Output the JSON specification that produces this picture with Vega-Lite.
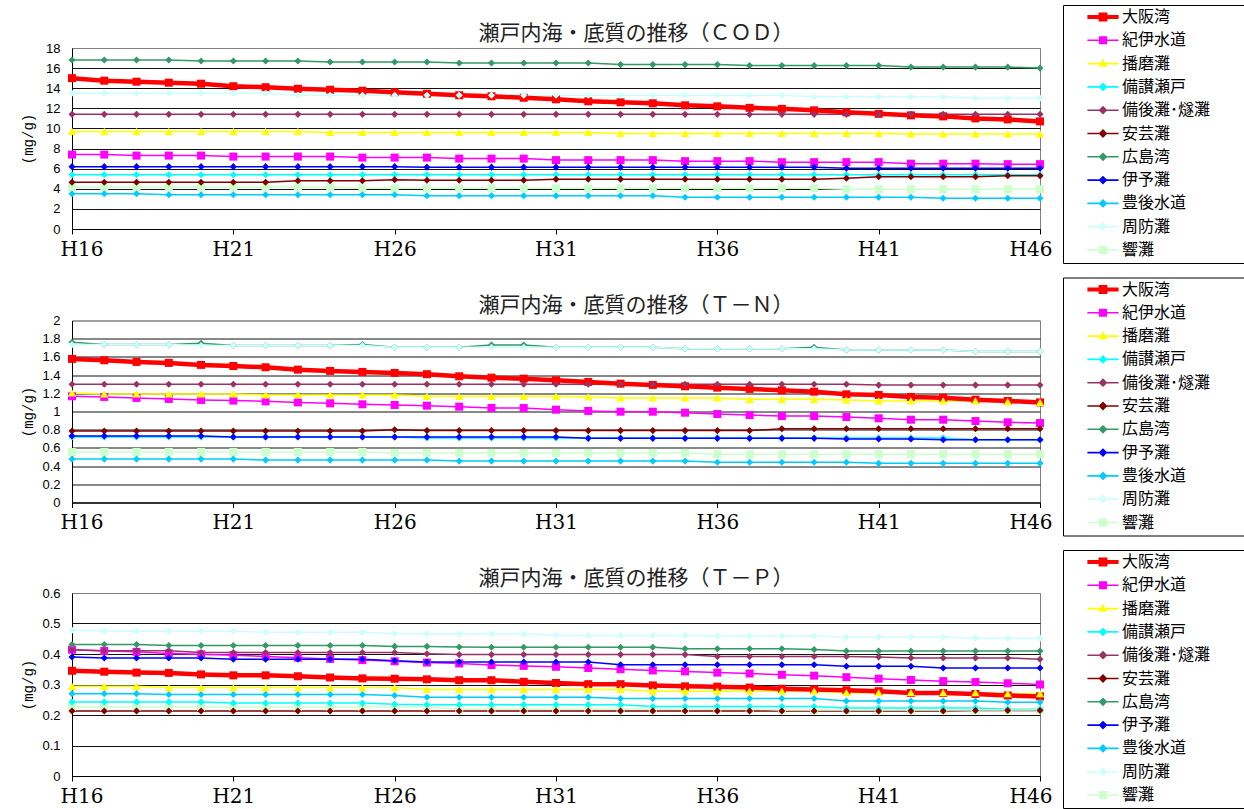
{
"$schema":"https://vega.github.io/schema/vega-lite/v6.json",
"background":"white",
"padding":{"left":20,"top":4,"right":0,"bottom":0},
"spacing":12.5,
"config":{
"view":{"stroke":"#808080","strokeWidth":1},
"font":"Noto Sans CJK JP",
"axis":{"labelOverlap":false},
"title":{"font":"Noto Sans CJK JP","fontSize":21,"fontWeight":"normal","color":"#222222","anchor":"middle","frame":"group","dx":80,"dy":45,"offset":6},
"legend":{"title":null,"orient":"none","legendX":991,"legendY":-43,"strokeColor":"black","fillColor":"white","padding":3,"clipHeight":18,"rowPadding":5.3,"symbolSize":64,"symbolStrokeWidth":0,"symbolOpacity":1,"symbolOffset":29,"labelOffset":11,"labelFont":"Noto Sans CJK JP","labelFontSize":16,"labelColor":"black","labelLimit":400}
},
"resolve":{"legend":{"color":"independent","shape":"independent"}},
"datasets":{
"cod":[
{"s":"大阪湾","x":16,"v":15},{"s":"大阪湾","x":17,"v":14.75},{"s":"大阪湾","x":18,"v":14.65},{"s":"大阪湾","x":19,"v":14.55},{"s":"大阪湾","x":20,"v":14.45},{"s":"大阪湾","x":21,"v":14.2},{"s":"大阪湾","x":22,"v":14.1},{"s":"大阪湾","x":23,"v":13.95},{"s":"大阪湾","x":24,"v":13.85},{"s":"大阪湾","x":25,"v":13.75},{"s":"大阪湾","x":26,"v":13.6},{"s":"大阪湾","x":27,"v":13.45},{"s":"大阪湾","x":28,"v":13.3},{"s":"大阪湾","x":29,"v":13.2},{"s":"大阪湾","x":30,"v":13.05},{"s":"大阪湾","x":31,"v":12.9},{"s":"大阪湾","x":32,"v":12.7},{"s":"大阪湾","x":33,"v":12.6},{"s":"大阪湾","x":34,"v":12.5},{"s":"大阪湾","x":35,"v":12.3},{"s":"大阪湾","x":36,"v":12.2},{"s":"大阪湾","x":37,"v":12.05},{"s":"大阪湾","x":38,"v":11.95},{"s":"大阪湾","x":39,"v":11.8},{"s":"大阪湾","x":40,"v":11.6},{"s":"大阪湾","x":41,"v":11.45},{"s":"大阪湾","x":42,"v":11.3},{"s":"大阪湾","x":43,"v":11.2},{"s":"大阪湾","x":44,"v":11},{"s":"大阪湾","x":45,"v":10.9},{"s":"大阪湾","x":46,"v":10.7},
{"s":"紀伊水道","x":16,"v":7.4},{"s":"紀伊水道","x":17,"v":7.4},{"s":"紀伊水道","x":18,"v":7.3},{"s":"紀伊水道","x":19,"v":7.3},{"s":"紀伊水道","x":20,"v":7.3},{"s":"紀伊水道","x":21,"v":7.2},{"s":"紀伊水道","x":22,"v":7.2},{"s":"紀伊水道","x":23,"v":7.2},{"s":"紀伊水道","x":24,"v":7.2},{"s":"紀伊水道","x":25,"v":7.1},{"s":"紀伊水道","x":26,"v":7.1},{"s":"紀伊水道","x":27,"v":7.1},{"s":"紀伊水道","x":28,"v":7},{"s":"紀伊水道","x":29,"v":7},{"s":"紀伊水道","x":30,"v":7},{"s":"紀伊水道","x":31,"v":6.85},{"s":"紀伊水道","x":32,"v":6.85},{"s":"紀伊水道","x":33,"v":6.85},{"s":"紀伊水道","x":34,"v":6.85},{"s":"紀伊水道","x":35,"v":6.75},{"s":"紀伊水道","x":36,"v":6.75},{"s":"紀伊水道","x":37,"v":6.75},{"s":"紀伊水道","x":38,"v":6.65},{"s":"紀伊水道","x":39,"v":6.65},{"s":"紀伊水道","x":40,"v":6.65},{"s":"紀伊水道","x":41,"v":6.65},{"s":"紀伊水道","x":42,"v":6.5},{"s":"紀伊水道","x":43,"v":6.5},{"s":"紀伊水道","x":44,"v":6.5},{"s":"紀伊水道","x":45,"v":6.45},{"s":"紀伊水道","x":46,"v":6.45},
{"s":"播磨灘","x":16,"v":9.7},{"s":"播磨灘","x":17,"v":9.7},{"s":"播磨灘","x":18,"v":9.7},{"s":"播磨灘","x":19,"v":9.7},{"s":"播磨灘","x":20,"v":9.7},{"s":"播磨灘","x":21,"v":9.7},{"s":"播磨灘","x":22,"v":9.7},{"s":"播磨灘","x":23,"v":9.7},{"s":"播磨灘","x":24,"v":9.6},{"s":"播磨灘","x":25,"v":9.6},{"s":"播磨灘","x":26,"v":9.6},{"s":"播磨灘","x":27,"v":9.6},{"s":"播磨灘","x":28,"v":9.6},{"s":"播磨灘","x":29,"v":9.6},{"s":"播磨灘","x":30,"v":9.6},{"s":"播磨灘","x":31,"v":9.6},{"s":"播磨灘","x":32,"v":9.6},{"s":"播磨灘","x":33,"v":9.5},{"s":"播磨灘","x":34,"v":9.5},{"s":"播磨灘","x":35,"v":9.5},{"s":"播磨灘","x":36,"v":9.5},{"s":"播磨灘","x":37,"v":9.5},{"s":"播磨灘","x":38,"v":9.5},{"s":"播磨灘","x":39,"v":9.5},{"s":"播磨灘","x":40,"v":9.5},{"s":"播磨灘","x":41,"v":9.5},{"s":"播磨灘","x":42,"v":9.45},{"s":"播磨灘","x":43,"v":9.45},{"s":"播磨灘","x":44,"v":9.45},{"s":"播磨灘","x":45,"v":9.45},{"s":"播磨灘","x":46,"v":9.45},
{"s":"備讃瀬戸","x":16,"v":5.4},{"s":"備讃瀬戸","x":17,"v":5.4},{"s":"備讃瀬戸","x":18,"v":5.4},{"s":"備讃瀬戸","x":19,"v":5.4},{"s":"備讃瀬戸","x":20,"v":5.4},{"s":"備讃瀬戸","x":21,"v":5.4},{"s":"備讃瀬戸","x":22,"v":5.4},{"s":"備讃瀬戸","x":23,"v":5.4},{"s":"備讃瀬戸","x":24,"v":5.4},{"s":"備讃瀬戸","x":25,"v":5.4},{"s":"備讃瀬戸","x":26,"v":5.4},{"s":"備讃瀬戸","x":27,"v":5.4},{"s":"備讃瀬戸","x":28,"v":5.4},{"s":"備讃瀬戸","x":29,"v":5.4},{"s":"備讃瀬戸","x":30,"v":5.4},{"s":"備讃瀬戸","x":31,"v":5.4},{"s":"備讃瀬戸","x":32,"v":5.4},{"s":"備讃瀬戸","x":33,"v":5.4},{"s":"備讃瀬戸","x":34,"v":5.4},{"s":"備讃瀬戸","x":35,"v":5.4},{"s":"備讃瀬戸","x":36,"v":5.4},{"s":"備讃瀬戸","x":37,"v":5.4},{"s":"備讃瀬戸","x":38,"v":5.4},{"s":"備讃瀬戸","x":39,"v":5.4},{"s":"備讃瀬戸","x":40,"v":5.4},{"s":"備讃瀬戸","x":41,"v":5.4},{"s":"備讃瀬戸","x":42,"v":5.4},{"s":"備讃瀬戸","x":43,"v":5.4},{"s":"備讃瀬戸","x":44,"v":5.4},{"s":"備讃瀬戸","x":45,"v":5.4},{"s":"備讃瀬戸","x":46,"v":5.4},
{"s":"備後灘･燧灘","x":16,"v":11.4},{"s":"備後灘･燧灘","x":17,"v":11.4},{"s":"備後灘･燧灘","x":18,"v":11.4},{"s":"備後灘･燧灘","x":19,"v":11.4},{"s":"備後灘･燧灘","x":20,"v":11.4},{"s":"備後灘･燧灘","x":21,"v":11.4},{"s":"備後灘･燧灘","x":22,"v":11.4},{"s":"備後灘･燧灘","x":23,"v":11.4},{"s":"備後灘･燧灘","x":24,"v":11.4},{"s":"備後灘･燧灘","x":25,"v":11.4},{"s":"備後灘･燧灘","x":26,"v":11.4},{"s":"備後灘･燧灘","x":27,"v":11.4},{"s":"備後灘･燧灘","x":28,"v":11.4},{"s":"備後灘･燧灘","x":29,"v":11.4},{"s":"備後灘･燧灘","x":30,"v":11.4},{"s":"備後灘･燧灘","x":31,"v":11.4},{"s":"備後灘･燧灘","x":32,"v":11.4},{"s":"備後灘･燧灘","x":33,"v":11.4},{"s":"備後灘･燧灘","x":34,"v":11.4},{"s":"備後灘･燧灘","x":35,"v":11.4},{"s":"備後灘･燧灘","x":36,"v":11.4},{"s":"備後灘･燧灘","x":37,"v":11.4},{"s":"備後灘･燧灘","x":38,"v":11.4},{"s":"備後灘･燧灘","x":39,"v":11.4},{"s":"備後灘･燧灘","x":40,"v":11.4},{"s":"備後灘･燧灘","x":41,"v":11.4},{"s":"備後灘･燧灘","x":42,"v":11.4},{"s":"備後灘･燧灘","x":43,"v":11.4},{"s":"備後灘･燧灘","x":44,"v":11.4},{"s":"備後灘･燧灘","x":45,"v":11.4},{"s":"備後灘･燧灘","x":46,"v":11.4},
{"s":"安芸灘","x":16,"v":4.65},{"s":"安芸灘","x":17,"v":4.65},{"s":"安芸灘","x":18,"v":4.65},{"s":"安芸灘","x":19,"v":4.65},{"s":"安芸灘","x":20,"v":4.65},{"s":"安芸灘","x":21,"v":4.65},{"s":"安芸灘","x":22,"v":4.65},{"s":"安芸灘","x":23,"v":4.8},{"s":"安芸灘","x":24,"v":4.8},{"s":"安芸灘","x":25,"v":4.8},{"s":"安芸灘","x":26,"v":4.9},{"s":"安芸灘","x":27,"v":4.85},{"s":"安芸灘","x":28,"v":4.85},{"s":"安芸灘","x":29,"v":4.85},{"s":"安芸灘","x":30,"v":4.85},{"s":"安芸灘","x":31,"v":4.95},{"s":"安芸灘","x":32,"v":4.95},{"s":"安芸灘","x":33,"v":4.95},{"s":"安芸灘","x":34,"v":4.95},{"s":"安芸灘","x":35,"v":4.95},{"s":"安芸灘","x":36,"v":4.95},{"s":"安芸灘","x":37,"v":4.95},{"s":"安芸灘","x":38,"v":4.95},{"s":"安芸灘","x":39,"v":4.95},{"s":"安芸灘","x":40,"v":5.05},{"s":"安芸灘","x":41,"v":5.2},{"s":"安芸灘","x":42,"v":5.2},{"s":"安芸灘","x":43,"v":5.2},{"s":"安芸灘","x":44,"v":5.2},{"s":"安芸灘","x":45,"v":5.3},{"s":"安芸灘","x":46,"v":5.3},
{"s":"広島湾","x":16,"v":16.8},{"s":"広島湾","x":17,"v":16.8},{"s":"広島湾","x":18,"v":16.8},{"s":"広島湾","x":19,"v":16.8},{"s":"広島湾","x":20,"v":16.7},{"s":"広島湾","x":21,"v":16.7},{"s":"広島湾","x":22,"v":16.7},{"s":"広島湾","x":23,"v":16.7},{"s":"広島湾","x":24,"v":16.6},{"s":"広島湾","x":25,"v":16.6},{"s":"広島湾","x":26,"v":16.6},{"s":"広島湾","x":27,"v":16.6},{"s":"広島湾","x":28,"v":16.5},{"s":"広島湾","x":29,"v":16.5},{"s":"広島湾","x":30,"v":16.5},{"s":"広島湾","x":31,"v":16.5},{"s":"広島湾","x":32,"v":16.5},{"s":"広島湾","x":33,"v":16.35},{"s":"広島湾","x":34,"v":16.35},{"s":"広島湾","x":35,"v":16.35},{"s":"広島湾","x":36,"v":16.35},{"s":"広島湾","x":37,"v":16.25},{"s":"広島湾","x":38,"v":16.25},{"s":"広島湾","x":39,"v":16.25},{"s":"広島湾","x":40,"v":16.25},{"s":"広島湾","x":41,"v":16.25},{"s":"広島湾","x":42,"v":16.1},{"s":"広島湾","x":43,"v":16.1},{"s":"広島湾","x":44,"v":16.1},{"s":"広島湾","x":45,"v":16.1},{"s":"広島湾","x":46,"v":16},
{"s":"伊予灘","x":16,"v":6.2},{"s":"伊予灘","x":17,"v":6.2},{"s":"伊予灘","x":18,"v":6.2},{"s":"伊予灘","x":19,"v":6.2},{"s":"伊予灘","x":20,"v":6.2},{"s":"伊予灘","x":21,"v":6.2},{"s":"伊予灘","x":22,"v":6.2},{"s":"伊予灘","x":23,"v":6.2},{"s":"伊予灘","x":24,"v":6.2},{"s":"伊予灘","x":25,"v":6.2},{"s":"伊予灘","x":26,"v":6.2},{"s":"伊予灘","x":27,"v":6.15},{"s":"伊予灘","x":28,"v":6.15},{"s":"伊予灘","x":29,"v":6.15},{"s":"伊予灘","x":30,"v":6.15},{"s":"伊予灘","x":31,"v":6.15},{"s":"伊予灘","x":32,"v":6.15},{"s":"伊予灘","x":33,"v":6.15},{"s":"伊予灘","x":34,"v":6.15},{"s":"伊予灘","x":35,"v":6.15},{"s":"伊予灘","x":36,"v":6.15},{"s":"伊予灘","x":37,"v":6.15},{"s":"伊予灘","x":38,"v":6.15},{"s":"伊予灘","x":39,"v":6.15},{"s":"伊予灘","x":40,"v":6.05},{"s":"伊予灘","x":41,"v":6.05},{"s":"伊予灘","x":42,"v":6.05},{"s":"伊予灘","x":43,"v":6.05},{"s":"伊予灘","x":44,"v":6.05},{"s":"伊予灘","x":45,"v":6.05},{"s":"伊予灘","x":46,"v":6.05},
{"s":"豊後水道","x":16,"v":3.5},{"s":"豊後水道","x":17,"v":3.5},{"s":"豊後水道","x":18,"v":3.5},{"s":"豊後水道","x":19,"v":3.4},{"s":"豊後水道","x":20,"v":3.4},{"s":"豊後水道","x":21,"v":3.4},{"s":"豊後水道","x":22,"v":3.4},{"s":"豊後水道","x":23,"v":3.4},{"s":"豊後水道","x":24,"v":3.4},{"s":"豊後水道","x":25,"v":3.4},{"s":"豊後水道","x":26,"v":3.4},{"s":"豊後水道","x":27,"v":3.3},{"s":"豊後水道","x":28,"v":3.3},{"s":"豊後水道","x":29,"v":3.3},{"s":"豊後水道","x":30,"v":3.3},{"s":"豊後水道","x":31,"v":3.3},{"s":"豊後水道","x":32,"v":3.3},{"s":"豊後水道","x":33,"v":3.3},{"s":"豊後水道","x":34,"v":3.3},{"s":"豊後水道","x":35,"v":3.15},{"s":"豊後水道","x":36,"v":3.15},{"s":"豊後水道","x":37,"v":3.15},{"s":"豊後水道","x":38,"v":3.15},{"s":"豊後水道","x":39,"v":3.15},{"s":"豊後水道","x":40,"v":3.15},{"s":"豊後水道","x":41,"v":3.15},{"s":"豊後水道","x":42,"v":3.15},{"s":"豊後水道","x":43,"v":3.05},{"s":"豊後水道","x":44,"v":3.05},{"s":"豊後水道","x":45,"v":3.05},{"s":"豊後水道","x":46,"v":3.05},
{"s":"周防灘","x":16,"v":13.5},{"s":"周防灘","x":17,"v":13.5},{"s":"周防灘","x":18,"v":13.5},{"s":"周防灘","x":19,"v":13.5},{"s":"周防灘","x":20,"v":13.5},{"s":"周防灘","x":21,"v":13.5},{"s":"周防灘","x":22,"v":13.5},{"s":"周防灘","x":23,"v":13.3},{"s":"周防灘","x":24,"v":13.3},{"s":"周防灘","x":25,"v":13.3},{"s":"周防灘","x":26,"v":13.3},{"s":"周防灘","x":27,"v":13.3},{"s":"周防灘","x":28,"v":13.3},{"s":"周防灘","x":29,"v":13.3},{"s":"周防灘","x":30,"v":13.3},{"s":"周防灘","x":31,"v":13.3},{"s":"周防灘","x":32,"v":13.3},{"s":"周防灘","x":33,"v":13.3},{"s":"周防灘","x":34,"v":13.3},{"s":"周防灘","x":35,"v":13.3},{"s":"周防灘","x":36,"v":13.3},{"s":"周防灘","x":37,"v":13.3},{"s":"周防灘","x":38,"v":13.3},{"s":"周防灘","x":39,"v":13.15},{"s":"周防灘","x":40,"v":13.15},{"s":"周防灘","x":41,"v":13.15},{"s":"周防灘","x":42,"v":13.15},{"s":"周防灘","x":43,"v":13.15},{"s":"周防灘","x":44,"v":13},{"s":"周防灘","x":45,"v":13},{"s":"周防灘","x":46,"v":13},
{"s":"響灘","x":16,"v":4.15},{"s":"響灘","x":17,"v":4.15},{"s":"響灘","x":18,"v":4.15},{"s":"響灘","x":19,"v":4.15},{"s":"響灘","x":20,"v":4.15},{"s":"響灘","x":21,"v":4.15},{"s":"響灘","x":22,"v":4.15},{"s":"響灘","x":23,"v":4.15},{"s":"響灘","x":24,"v":4.15},{"s":"響灘","x":25,"v":4.05},{"s":"響灘","x":26,"v":4.05},{"s":"響灘","x":27,"v":4.05},{"s":"響灘","x":28,"v":4.05},{"s":"響灘","x":29,"v":4.05},{"s":"響灘","x":30,"v":4.05},{"s":"響灘","x":31,"v":4.05},{"s":"響灘","x":32,"v":4.05},{"s":"響灘","x":33,"v":4.05},{"s":"響灘","x":34,"v":4.05},{"s":"響灘","x":35,"v":4.05},{"s":"響灘","x":36,"v":4.05},{"s":"響灘","x":37,"v":4.05},{"s":"響灘","x":38,"v":4.05},{"s":"響灘","x":39,"v":4.05},{"s":"響灘","x":40,"v":3.95},{"s":"響灘","x":41,"v":3.95},{"s":"響灘","x":42,"v":3.95},{"s":"響灘","x":43,"v":3.95},{"s":"響灘","x":44,"v":3.95},{"s":"響灘","x":45,"v":3.95},{"s":"響灘","x":46,"v":3.95}
],
"tn":[
{"s":"大阪湾","x":16,"v":1.578},{"s":"大阪湾","x":17,"v":1.563},{"s":"大阪湾","x":18,"v":1.545},{"s":"大阪湾","x":19,"v":1.534},{"s":"大阪湾","x":20,"v":1.512},{"s":"大阪湾","x":21,"v":1.5},{"s":"大阪湾","x":22,"v":1.486},{"s":"大阪湾","x":23,"v":1.46},{"s":"大阪湾","x":24,"v":1.446},{"s":"大阪湾","x":25,"v":1.435},{"s":"大阪湾","x":26,"v":1.424},{"s":"大阪湾","x":27,"v":1.41},{"s":"大阪湾","x":28,"v":1.387},{"s":"大阪湾","x":29,"v":1.372},{"s":"大阪湾","x":30,"v":1.361},{"s":"大阪湾","x":31,"v":1.343},{"s":"大阪湾","x":32,"v":1.325},{"s":"大阪湾","x":33,"v":1.306},{"s":"大阪湾","x":34,"v":1.292},{"s":"大阪湾","x":35,"v":1.277},{"s":"大阪湾","x":36,"v":1.262},{"s":"大阪湾","x":37,"v":1.248},{"s":"大阪湾","x":38,"v":1.233},{"s":"大阪湾","x":39,"v":1.218},{"s":"大阪湾","x":40,"v":1.189},{"s":"大阪湾","x":41,"v":1.182},{"s":"大阪湾","x":42,"v":1.16},{"s":"大阪湾","x":43,"v":1.152},{"s":"大阪湾","x":44,"v":1.13},{"s":"大阪湾","x":45,"v":1.116},{"s":"大阪湾","x":46,"v":1.1},
{"s":"紀伊水道","x":16,"v":1.167},{"s":"紀伊水道","x":17,"v":1.16},{"s":"紀伊水道","x":18,"v":1.149},{"s":"紀伊水道","x":19,"v":1.138},{"s":"紀伊水道","x":20,"v":1.127},{"s":"紀伊水道","x":21,"v":1.12},{"s":"紀伊水道","x":22,"v":1.112},{"s":"紀伊水道","x":23,"v":1.1},{"s":"紀伊水道","x":24,"v":1.09},{"s":"紀伊水道","x":25,"v":1.079},{"s":"紀伊水道","x":26,"v":1.072},{"s":"紀伊水道","x":27,"v":1.064},{"s":"紀伊水道","x":28,"v":1.053},{"s":"紀伊水道","x":29,"v":1.039},{"s":"紀伊水道","x":30,"v":1.039},{"s":"紀伊水道","x":31,"v":1.02},{"s":"紀伊水道","x":32,"v":1.006},{"s":"紀伊水道","x":33,"v":0.998},{"s":"紀伊水道","x":34,"v":0.998},{"s":"紀伊水道","x":35,"v":0.987},{"s":"紀伊水道","x":36,"v":0.972},{"s":"紀伊水道","x":37,"v":0.961},{"s":"紀伊水道","x":38,"v":0.95},{"s":"紀伊水道","x":39,"v":0.95},{"s":"紀伊水道","x":40,"v":0.939},{"s":"紀伊水道","x":41,"v":0.925},{"s":"紀伊水道","x":42,"v":0.91},{"s":"紀伊水道","x":43,"v":0.91},{"s":"紀伊水道","x":44,"v":0.895},{"s":"紀伊水道","x":45,"v":0.881},{"s":"紀伊水道","x":46,"v":0.873},
{"s":"播磨灘","x":16,"v":1.204},{"s":"播磨灘","x":17,"v":1.193},{"s":"播磨灘","x":18,"v":1.193},{"s":"播磨灘","x":19,"v":1.193},{"s":"播磨灘","x":20,"v":1.193},{"s":"播磨灘","x":21,"v":1.193},{"s":"播磨灘","x":22,"v":1.182},{"s":"播磨灘","x":23,"v":1.182},{"s":"播磨灘","x":24,"v":1.182},{"s":"播磨灘","x":25,"v":1.182},{"s":"播磨灘","x":26,"v":1.182},{"s":"播磨灘","x":27,"v":1.167},{"s":"播磨灘","x":28,"v":1.167},{"s":"播磨灘","x":29,"v":1.167},{"s":"播磨灘","x":30,"v":1.167},{"s":"播磨灘","x":31,"v":1.167},{"s":"播磨灘","x":32,"v":1.16},{"s":"播磨灘","x":33,"v":1.149},{"s":"播磨灘","x":34,"v":1.149},{"s":"播磨灘","x":35,"v":1.149},{"s":"播磨灘","x":36,"v":1.149},{"s":"播磨灘","x":37,"v":1.134},{"s":"播磨灘","x":38,"v":1.134},{"s":"播磨灘","x":39,"v":1.134},{"s":"播磨灘","x":40,"v":1.127},{"s":"播磨灘","x":41,"v":1.116},{"s":"播磨灘","x":42,"v":1.116},{"s":"播磨灘","x":43,"v":1.116},{"s":"播磨灘","x":44,"v":1.116},{"s":"播磨灘","x":45,"v":1.108},{"s":"播磨灘","x":46,"v":1.1},
{"s":"備讃瀬戸","x":16,"v":0.72},{"s":"備讃瀬戸","x":17,"v":0.72},{"s":"備讃瀬戸","x":18,"v":0.72},{"s":"備讃瀬戸","x":19,"v":0.72},{"s":"備讃瀬戸","x":20,"v":0.72},{"s":"備讃瀬戸","x":21,"v":0.72},{"s":"備讃瀬戸","x":22,"v":0.72},{"s":"備讃瀬戸","x":23,"v":0.72},{"s":"備讃瀬戸","x":24,"v":0.72},{"s":"備讃瀬戸","x":25,"v":0.72},{"s":"備讃瀬戸","x":26,"v":0.72},{"s":"備讃瀬戸","x":27,"v":0.71},{"s":"備讃瀬戸","x":28,"v":0.71},{"s":"備讃瀬戸","x":29,"v":0.71},{"s":"備讃瀬戸","x":30,"v":0.71},{"s":"備讃瀬戸","x":31,"v":0.71},{"s":"備讃瀬戸","x":32,"v":0.71},{"s":"備讃瀬戸","x":33,"v":0.71},{"s":"備讃瀬戸","x":34,"v":0.71},{"s":"備讃瀬戸","x":35,"v":0.71},{"s":"備讃瀬戸","x":36,"v":0.71},{"s":"備讃瀬戸","x":37,"v":0.71},{"s":"備讃瀬戸","x":38,"v":0.71},{"s":"備讃瀬戸","x":39,"v":0.71},{"s":"備讃瀬戸","x":40,"v":0.71},{"s":"備讃瀬戸","x":41,"v":0.71},{"s":"備讃瀬戸","x":42,"v":0.71},{"s":"備讃瀬戸","x":43,"v":0.71},{"s":"備讃瀬戸","x":44,"v":0.69},{"s":"備讃瀬戸","x":45,"v":0.69},{"s":"備讃瀬戸","x":46,"v":0.69},
{"s":"備後灘･燧灘","x":16,"v":1.3},{"s":"備後灘･燧灘","x":17,"v":1.3},{"s":"備後灘･燧灘","x":18,"v":1.3},{"s":"備後灘･燧灘","x":19,"v":1.3},{"s":"備後灘･燧灘","x":20,"v":1.3},{"s":"備後灘･燧灘","x":21,"v":1.3},{"s":"備後灘･燧灘","x":22,"v":1.3},{"s":"備後灘･燧灘","x":23,"v":1.3},{"s":"備後灘･燧灘","x":24,"v":1.3},{"s":"備後灘･燧灘","x":25,"v":1.3},{"s":"備後灘･燧灘","x":26,"v":1.3},{"s":"備後灘･燧灘","x":27,"v":1.3},{"s":"備後灘･燧灘","x":28,"v":1.3},{"s":"備後灘･燧灘","x":29,"v":1.3},{"s":"備後灘･燧灘","x":30,"v":1.3},{"s":"備後灘･燧灘","x":31,"v":1.3},{"s":"備後灘･燧灘","x":32,"v":1.3},{"s":"備後灘･燧灘","x":33,"v":1.3},{"s":"備後灘･燧灘","x":34,"v":1.3},{"s":"備後灘･燧灘","x":35,"v":1.3},{"s":"備後灘･燧灘","x":36,"v":1.3},{"s":"備後灘･燧灘","x":37,"v":1.3},{"s":"備後灘･燧灘","x":38,"v":1.3},{"s":"備後灘･燧灘","x":39,"v":1.3},{"s":"備後灘･燧灘","x":40,"v":1.3},{"s":"備後灘･燧灘","x":41,"v":1.29},{"s":"備後灘･燧灘","x":42,"v":1.29},{"s":"備後灘･燧灘","x":43,"v":1.29},{"s":"備後灘･燧灘","x":44,"v":1.29},{"s":"備後灘･燧灘","x":45,"v":1.29},{"s":"備後灘･燧灘","x":46,"v":1.29},
{"s":"安芸灘","x":16,"v":0.785},{"s":"安芸灘","x":17,"v":0.785},{"s":"安芸灘","x":18,"v":0.785},{"s":"安芸灘","x":19,"v":0.785},{"s":"安芸灘","x":20,"v":0.785},{"s":"安芸灘","x":21,"v":0.785},{"s":"安芸灘","x":22,"v":0.785},{"s":"安芸灘","x":23,"v":0.785},{"s":"安芸灘","x":24,"v":0.785},{"s":"安芸灘","x":25,"v":0.785},{"s":"安芸灘","x":26,"v":0.8},{"s":"安芸灘","x":27,"v":0.79},{"s":"安芸灘","x":28,"v":0.79},{"s":"安芸灘","x":29,"v":0.79},{"s":"安芸灘","x":30,"v":0.79},{"s":"安芸灘","x":31,"v":0.79},{"s":"安芸灘","x":32,"v":0.79},{"s":"安芸灘","x":33,"v":0.79},{"s":"安芸灘","x":34,"v":0.79},{"s":"安芸灘","x":35,"v":0.79},{"s":"安芸灘","x":36,"v":0.79},{"s":"安芸灘","x":37,"v":0.79},{"s":"安芸灘","x":38,"v":0.81},{"s":"安芸灘","x":39,"v":0.81},{"s":"安芸灘","x":40,"v":0.81},{"s":"安芸灘","x":41,"v":0.81},{"s":"安芸灘","x":42,"v":0.81},{"s":"安芸灘","x":43,"v":0.81},{"s":"安芸灘","x":44,"v":0.81},{"s":"安芸灘","x":45,"v":0.81},{"s":"安芸灘","x":46,"v":0.81},
{"s":"広島湾","x":16,"v":1.76},{"s":"広島湾","x":17,"v":1.735},{"s":"広島湾","x":18,"v":1.735},{"s":"広島湾","x":19,"v":1.735},{"s":"広島湾","x":20,"v":1.75},{"s":"広島湾","x":21,"v":1.725},{"s":"広島湾","x":22,"v":1.725},{"s":"広島湾","x":23,"v":1.725},{"s":"広島湾","x":24,"v":1.725},{"s":"広島湾","x":25,"v":1.735},{"s":"広島湾","x":26,"v":1.705},{"s":"広島湾","x":27,"v":1.705},{"s":"広島湾","x":28,"v":1.705},{"s":"広島湾","x":29,"v":1.73},{"s":"広島湾","x":30,"v":1.73},{"s":"広島湾","x":31,"v":1.705},{"s":"広島湾","x":32,"v":1.705},{"s":"広島湾","x":33,"v":1.705},{"s":"広島湾","x":34,"v":1.705},{"s":"広島湾","x":35,"v":1.69},{"s":"広島湾","x":36,"v":1.69},{"s":"広島湾","x":37,"v":1.69},{"s":"広島湾","x":38,"v":1.69},{"s":"広島湾","x":39,"v":1.705},{"s":"広島湾","x":40,"v":1.675},{"s":"広島湾","x":41,"v":1.675},{"s":"広島湾","x":42,"v":1.675},{"s":"広島湾","x":43,"v":1.675},{"s":"広島湾","x":44,"v":1.66},{"s":"広島湾","x":45,"v":1.66},{"s":"広島湾","x":46,"v":1.66},
{"s":"伊予灘","x":16,"v":0.73},{"s":"伊予灘","x":17,"v":0.73},{"s":"伊予灘","x":18,"v":0.73},{"s":"伊予灘","x":19,"v":0.73},{"s":"伊予灘","x":20,"v":0.73},{"s":"伊予灘","x":21,"v":0.72},{"s":"伊予灘","x":22,"v":0.72},{"s":"伊予灘","x":23,"v":0.72},{"s":"伊予灘","x":24,"v":0.72},{"s":"伊予灘","x":25,"v":0.72},{"s":"伊予灘","x":26,"v":0.72},{"s":"伊予灘","x":27,"v":0.72},{"s":"伊予灘","x":28,"v":0.72},{"s":"伊予灘","x":29,"v":0.72},{"s":"伊予灘","x":30,"v":0.72},{"s":"伊予灘","x":31,"v":0.72},{"s":"伊予灘","x":32,"v":0.705},{"s":"伊予灘","x":33,"v":0.705},{"s":"伊予灘","x":34,"v":0.705},{"s":"伊予灘","x":35,"v":0.705},{"s":"伊予灘","x":36,"v":0.705},{"s":"伊予灘","x":37,"v":0.705},{"s":"伊予灘","x":38,"v":0.705},{"s":"伊予灘","x":39,"v":0.705},{"s":"伊予灘","x":40,"v":0.697},{"s":"伊予灘","x":41,"v":0.697},{"s":"伊予灘","x":42,"v":0.697},{"s":"伊予灘","x":43,"v":0.69},{"s":"伊予灘","x":44,"v":0.69},{"s":"伊予灘","x":45,"v":0.69},{"s":"伊予灘","x":46,"v":0.69},
{"s":"豊後水道","x":16,"v":0.477},{"s":"豊後水道","x":17,"v":0.477},{"s":"豊後水道","x":18,"v":0.477},{"s":"豊後水道","x":19,"v":0.477},{"s":"豊後水道","x":20,"v":0.477},{"s":"豊後水道","x":21,"v":0.477},{"s":"豊後水道","x":22,"v":0.466},{"s":"豊後水道","x":23,"v":0.466},{"s":"豊後水道","x":24,"v":0.466},{"s":"豊後水道","x":25,"v":0.466},{"s":"豊後水道","x":26,"v":0.466},{"s":"豊後水道","x":27,"v":0.466},{"s":"豊後水道","x":28,"v":0.455},{"s":"豊後水道","x":29,"v":0.455},{"s":"豊後水道","x":30,"v":0.455},{"s":"豊後水道","x":31,"v":0.455},{"s":"豊後水道","x":32,"v":0.455},{"s":"豊後水道","x":33,"v":0.455},{"s":"豊後水道","x":34,"v":0.455},{"s":"豊後水道","x":35,"v":0.455},{"s":"豊後水道","x":36,"v":0.442},{"s":"豊後水道","x":37,"v":0.442},{"s":"豊後水道","x":38,"v":0.442},{"s":"豊後水道","x":39,"v":0.442},{"s":"豊後水道","x":40,"v":0.442},{"s":"豊後水道","x":41,"v":0.43},{"s":"豊後水道","x":42,"v":0.43},{"s":"豊後水道","x":43,"v":0.43},{"s":"豊後水道","x":44,"v":0.43},{"s":"豊後水道","x":45,"v":0.43},{"s":"豊後水道","x":46,"v":0.43},
{"s":"周防灘","x":16,"v":1.735},{"s":"周防灘","x":17,"v":1.735},{"s":"周防灘","x":18,"v":1.735},{"s":"周防灘","x":19,"v":1.735},{"s":"周防灘","x":20,"v":1.725},{"s":"周防灘","x":21,"v":1.725},{"s":"周防灘","x":22,"v":1.725},{"s":"周防灘","x":23,"v":1.725},{"s":"周防灘","x":24,"v":1.725},{"s":"周防灘","x":25,"v":1.725},{"s":"周防灘","x":26,"v":1.705},{"s":"周防灘","x":27,"v":1.705},{"s":"周防灘","x":28,"v":1.705},{"s":"周防灘","x":29,"v":1.705},{"s":"周防灘","x":30,"v":1.705},{"s":"周防灘","x":31,"v":1.705},{"s":"周防灘","x":32,"v":1.705},{"s":"周防灘","x":33,"v":1.705},{"s":"周防灘","x":34,"v":1.705},{"s":"周防灘","x":35,"v":1.69},{"s":"周防灘","x":36,"v":1.69},{"s":"周防灘","x":37,"v":1.69},{"s":"周防灘","x":38,"v":1.69},{"s":"周防灘","x":39,"v":1.69},{"s":"周防灘","x":40,"v":1.675},{"s":"周防灘","x":41,"v":1.675},{"s":"周防灘","x":42,"v":1.675},{"s":"周防灘","x":43,"v":1.675},{"s":"周防灘","x":44,"v":1.66},{"s":"周防灘","x":45,"v":1.66},{"s":"周防灘","x":46,"v":1.66},
{"s":"響灘","x":16,"v":0.555},{"s":"響灘","x":17,"v":0.555},{"s":"響灘","x":18,"v":0.555},{"s":"響灘","x":19,"v":0.555},{"s":"響灘","x":20,"v":0.555},{"s":"響灘","x":21,"v":0.555},{"s":"響灘","x":22,"v":0.555},{"s":"響灘","x":23,"v":0.555},{"s":"響灘","x":24,"v":0.555},{"s":"響灘","x":25,"v":0.555},{"s":"響灘","x":26,"v":0.545},{"s":"響灘","x":27,"v":0.545},{"s":"響灘","x":28,"v":0.545},{"s":"響灘","x":29,"v":0.545},{"s":"響灘","x":30,"v":0.545},{"s":"響灘","x":31,"v":0.545},{"s":"響灘","x":32,"v":0.545},{"s":"響灘","x":33,"v":0.545},{"s":"響灘","x":34,"v":0.545},{"s":"響灘","x":35,"v":0.545},{"s":"響灘","x":36,"v":0.53},{"s":"響灘","x":37,"v":0.53},{"s":"響灘","x":38,"v":0.53},{"s":"響灘","x":39,"v":0.53},{"s":"響灘","x":40,"v":0.53},{"s":"響灘","x":41,"v":0.53},{"s":"響灘","x":42,"v":0.53},{"s":"響灘","x":43,"v":0.53},{"s":"響灘","x":44,"v":0.53},{"s":"響灘","x":45,"v":0.53},{"s":"響灘","x":46,"v":0.53}
],
"tp":[
{"s":"大阪湾","x":16,"v":0.345},{"s":"大阪湾","x":17,"v":0.342},{"s":"大阪湾","x":18,"v":0.339},{"s":"大阪湾","x":19,"v":0.338},{"s":"大阪湾","x":20,"v":0.333},{"s":"大阪湾","x":21,"v":0.33},{"s":"大阪湾","x":22,"v":0.33},{"s":"大阪湾","x":23,"v":0.327},{"s":"大阪湾","x":24,"v":0.323},{"s":"大阪湾","x":25,"v":0.32},{"s":"大阪湾","x":26,"v":0.319},{"s":"大阪湾","x":27,"v":0.317},{"s":"大阪湾","x":28,"v":0.314},{"s":"大阪湾","x":29,"v":0.314},{"s":"大阪湾","x":30,"v":0.309},{"s":"大阪湾","x":31,"v":0.305},{"s":"大阪湾","x":32,"v":0.301},{"s":"大阪湾","x":33,"v":0.301},{"s":"大阪湾","x":34,"v":0.297},{"s":"大阪湾","x":35,"v":0.294},{"s":"大阪湾","x":36,"v":0.293},{"s":"大阪湾","x":37,"v":0.29},{"s":"大阪湾","x":38,"v":0.286},{"s":"大阪湾","x":39,"v":0.284},{"s":"大阪湾","x":40,"v":0.281},{"s":"大阪湾","x":41,"v":0.278},{"s":"大阪湾","x":42,"v":0.272},{"s":"大阪湾","x":43,"v":0.272},{"s":"大阪湾","x":44,"v":0.269},{"s":"大阪湾","x":45,"v":0.264},{"s":"大阪湾","x":46,"v":0.261},
{"s":"紀伊水道","x":16,"v":0.414},{"s":"紀伊水道","x":17,"v":0.41},{"s":"紀伊水道","x":18,"v":0.407},{"s":"紀伊水道","x":19,"v":0.402},{"s":"紀伊水道","x":20,"v":0.399},{"s":"紀伊水道","x":21,"v":0.396},{"s":"紀伊水道","x":22,"v":0.392},{"s":"紀伊水道","x":23,"v":0.388},{"s":"紀伊水道","x":24,"v":0.384},{"s":"紀伊水道","x":25,"v":0.38},{"s":"紀伊水道","x":26,"v":0.376},{"s":"紀伊水道","x":27,"v":0.372},{"s":"紀伊水道","x":28,"v":0.369},{"s":"紀伊水道","x":29,"v":0.364},{"s":"紀伊水道","x":30,"v":0.361},{"s":"紀伊水道","x":31,"v":0.358},{"s":"紀伊水道","x":32,"v":0.354},{"s":"紀伊水道","x":33,"v":0.35},{"s":"紀伊水道","x":34,"v":0.346},{"s":"紀伊水道","x":35,"v":0.343},{"s":"紀伊水道","x":36,"v":0.339},{"s":"紀伊水道","x":37,"v":0.336},{"s":"紀伊水道","x":38,"v":0.332},{"s":"紀伊水道","x":39,"v":0.329},{"s":"紀伊水道","x":40,"v":0.324},{"s":"紀伊水道","x":41,"v":0.319},{"s":"紀伊水道","x":42,"v":0.315},{"s":"紀伊水道","x":43,"v":0.311},{"s":"紀伊水道","x":44,"v":0.308},{"s":"紀伊水道","x":45,"v":0.304},{"s":"紀伊水道","x":46,"v":0.3},
{"s":"播磨灘","x":16,"v":0.294},{"s":"播磨灘","x":17,"v":0.294},{"s":"播磨灘","x":18,"v":0.294},{"s":"播磨灘","x":19,"v":0.29},{"s":"播磨灘","x":20,"v":0.29},{"s":"播磨灘","x":21,"v":0.29},{"s":"播磨灘","x":22,"v":0.29},{"s":"播磨灘","x":23,"v":0.29},{"s":"播磨灘","x":24,"v":0.29},{"s":"播磨灘","x":25,"v":0.29},{"s":"播磨灘","x":26,"v":0.29},{"s":"播磨灘","x":27,"v":0.284},{"s":"播磨灘","x":28,"v":0.284},{"s":"播磨灘","x":29,"v":0.284},{"s":"播磨灘","x":30,"v":0.284},{"s":"播磨灘","x":31,"v":0.284},{"s":"播磨灘","x":32,"v":0.284},{"s":"播磨灘","x":33,"v":0.284},{"s":"播磨灘","x":34,"v":0.278},{"s":"播磨灘","x":35,"v":0.278},{"s":"播磨灘","x":36,"v":0.278},{"s":"播磨灘","x":37,"v":0.278},{"s":"播磨灘","x":38,"v":0.278},{"s":"播磨灘","x":39,"v":0.278},{"s":"播磨灘","x":40,"v":0.273},{"s":"播磨灘","x":41,"v":0.273},{"s":"播磨灘","x":42,"v":0.273},{"s":"播磨灘","x":43,"v":0.273},{"s":"播磨灘","x":44,"v":0.273},{"s":"播磨灘","x":45,"v":0.27},{"s":"播磨灘","x":46,"v":0.27},
{"s":"備讃瀬戸","x":16,"v":0.243},{"s":"備讃瀬戸","x":17,"v":0.243},{"s":"備讃瀬戸","x":18,"v":0.243},{"s":"備讃瀬戸","x":19,"v":0.243},{"s":"備讃瀬戸","x":20,"v":0.243},{"s":"備讃瀬戸","x":21,"v":0.239},{"s":"備讃瀬戸","x":22,"v":0.239},{"s":"備讃瀬戸","x":23,"v":0.239},{"s":"備讃瀬戸","x":24,"v":0.239},{"s":"備讃瀬戸","x":25,"v":0.239},{"s":"備讃瀬戸","x":26,"v":0.235},{"s":"備讃瀬戸","x":27,"v":0.234},{"s":"備讃瀬戸","x":28,"v":0.234},{"s":"備讃瀬戸","x":29,"v":0.234},{"s":"備讃瀬戸","x":30,"v":0.234},{"s":"備讃瀬戸","x":31,"v":0.234},{"s":"備讃瀬戸","x":32,"v":0.234},{"s":"備讃瀬戸","x":33,"v":0.234},{"s":"備讃瀬戸","x":34,"v":0.228},{"s":"備讃瀬戸","x":35,"v":0.228},{"s":"備讃瀬戸","x":36,"v":0.228},{"s":"備讃瀬戸","x":37,"v":0.228},{"s":"備讃瀬戸","x":38,"v":0.228},{"s":"備讃瀬戸","x":39,"v":0.228},{"s":"備讃瀬戸","x":40,"v":0.223},{"s":"備讃瀬戸","x":41,"v":0.223},{"s":"備讃瀬戸","x":42,"v":0.223},{"s":"備讃瀬戸","x":43,"v":0.223},{"s":"備讃瀬戸","x":44,"v":0.223},{"s":"備讃瀬戸","x":45,"v":0.219},{"s":"備讃瀬戸","x":46,"v":0.219},
{"s":"備後灘･燧灘","x":16,"v":0.414},{"s":"備後灘･燧灘","x":17,"v":0.411},{"s":"備後灘･燧灘","x":18,"v":0.411},{"s":"備後灘･燧灘","x":19,"v":0.411},{"s":"備後灘･燧灘","x":20,"v":0.405},{"s":"備後灘･燧灘","x":21,"v":0.405},{"s":"備後灘･燧灘","x":22,"v":0.405},{"s":"備後灘･燧灘","x":23,"v":0.405},{"s":"備後灘･燧灘","x":24,"v":0.405},{"s":"備後灘･燧灘","x":25,"v":0.405},{"s":"備後灘･燧灘","x":26,"v":0.405},{"s":"備後灘･燧灘","x":27,"v":0.401},{"s":"備後灘･燧灘","x":28,"v":0.398},{"s":"備後灘･燧灘","x":29,"v":0.398},{"s":"備後灘･燧灘","x":30,"v":0.398},{"s":"備後灘･燧灘","x":31,"v":0.398},{"s":"備後灘･燧灘","x":32,"v":0.398},{"s":"備後灘･燧灘","x":33,"v":0.398},{"s":"備後灘･燧灘","x":34,"v":0.398},{"s":"備後灘･燧灘","x":35,"v":0.398},{"s":"備後灘･燧灘","x":36,"v":0.392},{"s":"備後灘･燧灘","x":37,"v":0.392},{"s":"備後灘･燧灘","x":38,"v":0.392},{"s":"備後灘･燧灘","x":39,"v":0.392},{"s":"備後灘･燧灘","x":40,"v":0.392},{"s":"備後灘･燧灘","x":41,"v":0.39},{"s":"備後灘･燧灘","x":42,"v":0.387},{"s":"備後灘･燧灘","x":43,"v":0.387},{"s":"備後灘･燧灘","x":44,"v":0.387},{"s":"備後灘･燧灘","x":45,"v":0.387},{"s":"備後灘･燧灘","x":46,"v":0.383},
{"s":"安芸灘","x":16,"v":0.213},{"s":"安芸灘","x":17,"v":0.213},{"s":"安芸灘","x":18,"v":0.213},{"s":"安芸灘","x":19,"v":0.213},{"s":"安芸灘","x":20,"v":0.213},{"s":"安芸灘","x":21,"v":0.213},{"s":"安芸灘","x":22,"v":0.213},{"s":"安芸灘","x":23,"v":0.213},{"s":"安芸灘","x":24,"v":0.213},{"s":"安芸灘","x":25,"v":0.213},{"s":"安芸灘","x":26,"v":0.213},{"s":"安芸灘","x":27,"v":0.213},{"s":"安芸灘","x":28,"v":0.213},{"s":"安芸灘","x":29,"v":0.213},{"s":"安芸灘","x":30,"v":0.213},{"s":"安芸灘","x":31,"v":0.213},{"s":"安芸灘","x":32,"v":0.213},{"s":"安芸灘","x":33,"v":0.213},{"s":"安芸灘","x":34,"v":0.213},{"s":"安芸灘","x":35,"v":0.213},{"s":"安芸灘","x":36,"v":0.213},{"s":"安芸灘","x":37,"v":0.213},{"s":"安芸灘","x":38,"v":0.213},{"s":"安芸灘","x":39,"v":0.213},{"s":"安芸灘","x":40,"v":0.213},{"s":"安芸灘","x":41,"v":0.213},{"s":"安芸灘","x":42,"v":0.213},{"s":"安芸灘","x":43,"v":0.213},{"s":"安芸灘","x":44,"v":0.215},{"s":"安芸灘","x":45,"v":0.215},{"s":"安芸灘","x":46,"v":0.215},
{"s":"広島湾","x":16,"v":0.431},{"s":"広島湾","x":17,"v":0.431},{"s":"広島湾","x":18,"v":0.431},{"s":"広島湾","x":19,"v":0.428},{"s":"広島湾","x":20,"v":0.428},{"s":"広島湾","x":21,"v":0.428},{"s":"広島湾","x":22,"v":0.428},{"s":"広島湾","x":23,"v":0.428},{"s":"広島湾","x":24,"v":0.428},{"s":"広島湾","x":25,"v":0.428},{"s":"広島湾","x":26,"v":0.425},{"s":"広島湾","x":27,"v":0.425},{"s":"広島湾","x":28,"v":0.423},{"s":"広島湾","x":29,"v":0.422},{"s":"広島湾","x":30,"v":0.422},{"s":"広島湾","x":31,"v":0.422},{"s":"広島湾","x":32,"v":0.422},{"s":"広島湾","x":33,"v":0.422},{"s":"広島湾","x":34,"v":0.422},{"s":"広島湾","x":35,"v":0.417},{"s":"広島湾","x":36,"v":0.417},{"s":"広島湾","x":37,"v":0.417},{"s":"広島湾","x":38,"v":0.417},{"s":"広島湾","x":39,"v":0.415},{"s":"広島湾","x":40,"v":0.41},{"s":"広島湾","x":41,"v":0.41},{"s":"広島湾","x":42,"v":0.41},{"s":"広島湾","x":43,"v":0.41},{"s":"広島湾","x":44,"v":0.41},{"s":"広島湾","x":45,"v":0.41},{"s":"広島湾","x":46,"v":0.41},
{"s":"伊予灘","x":16,"v":0.39},{"s":"伊予灘","x":17,"v":0.387},{"s":"伊予灘","x":18,"v":0.387},{"s":"伊予灘","x":19,"v":0.387},{"s":"伊予灘","x":20,"v":0.387},{"s":"伊予灘","x":21,"v":0.383},{"s":"伊予灘","x":22,"v":0.383},{"s":"伊予灘","x":23,"v":0.383},{"s":"伊予灘","x":24,"v":0.383},{"s":"伊予灘","x":25,"v":0.383},{"s":"伊予灘","x":26,"v":0.378},{"s":"伊予灘","x":27,"v":0.374},{"s":"伊予灘","x":28,"v":0.374},{"s":"伊予灘","x":29,"v":0.374},{"s":"伊予灘","x":30,"v":0.374},{"s":"伊予灘","x":31,"v":0.374},{"s":"伊予灘","x":32,"v":0.374},{"s":"伊予灘","x":33,"v":0.365},{"s":"伊予灘","x":34,"v":0.365},{"s":"伊予灘","x":35,"v":0.365},{"s":"伊予灘","x":36,"v":0.365},{"s":"伊予灘","x":37,"v":0.365},{"s":"伊予灘","x":38,"v":0.365},{"s":"伊予灘","x":39,"v":0.365},{"s":"伊予灘","x":40,"v":0.36},{"s":"伊予灘","x":41,"v":0.36},{"s":"伊予灘","x":42,"v":0.36},{"s":"伊予灘","x":43,"v":0.354},{"s":"伊予灘","x":44,"v":0.354},{"s":"伊予灘","x":45,"v":0.354},{"s":"伊予灘","x":46,"v":0.354},
{"s":"豊後水道","x":16,"v":0.27},{"s":"豊後水道","x":17,"v":0.27},{"s":"豊後水道","x":18,"v":0.27},{"s":"豊後水道","x":19,"v":0.267},{"s":"豊後水道","x":20,"v":0.267},{"s":"豊後水道","x":21,"v":0.267},{"s":"豊後水道","x":22,"v":0.267},{"s":"豊後水道","x":23,"v":0.267},{"s":"豊後水道","x":24,"v":0.267},{"s":"豊後水道","x":25,"v":0.267},{"s":"豊後水道","x":26,"v":0.264},{"s":"豊後水道","x":27,"v":0.258},{"s":"豊後水道","x":28,"v":0.258},{"s":"豊後水道","x":29,"v":0.258},{"s":"豊後水道","x":30,"v":0.258},{"s":"豊後水道","x":31,"v":0.258},{"s":"豊後水道","x":32,"v":0.258},{"s":"豊後水道","x":33,"v":0.254},{"s":"豊後水道","x":34,"v":0.254},{"s":"豊後水道","x":35,"v":0.254},{"s":"豊後水道","x":36,"v":0.254},{"s":"豊後水道","x":37,"v":0.254},{"s":"豊後水道","x":38,"v":0.254},{"s":"豊後水道","x":39,"v":0.254},{"s":"豊後水道","x":40,"v":0.246},{"s":"豊後水道","x":41,"v":0.246},{"s":"豊後水道","x":42,"v":0.246},{"s":"豊後水道","x":43,"v":0.246},{"s":"豊後水道","x":44,"v":0.246},{"s":"豊後水道","x":45,"v":0.242},{"s":"豊後水道","x":46,"v":0.242},
{"s":"周防灘","x":16,"v":0.478},{"s":"周防灘","x":17,"v":0.475},{"s":"周防灘","x":18,"v":0.475},{"s":"周防灘","x":19,"v":0.475},{"s":"周防灘","x":20,"v":0.475},{"s":"周防灘","x":21,"v":0.475},{"s":"周防灘","x":22,"v":0.471},{"s":"周防灘","x":23,"v":0.471},{"s":"周防灘","x":24,"v":0.471},{"s":"周防灘","x":25,"v":0.471},{"s":"周防灘","x":26,"v":0.467},{"s":"周防灘","x":27,"v":0.466},{"s":"周防灘","x":28,"v":0.466},{"s":"周防灘","x":29,"v":0.466},{"s":"周防灘","x":30,"v":0.466},{"s":"周防灘","x":31,"v":0.461},{"s":"周防灘","x":32,"v":0.461},{"s":"周防灘","x":33,"v":0.461},{"s":"周防灘","x":34,"v":0.461},{"s":"周防灘","x":35,"v":0.461},{"s":"周防灘","x":36,"v":0.459},{"s":"周防灘","x":37,"v":0.459},{"s":"周防灘","x":38,"v":0.459},{"s":"周防灘","x":39,"v":0.459},{"s":"周防灘","x":40,"v":0.456},{"s":"周防灘","x":41,"v":0.456},{"s":"周防灘","x":42,"v":0.456},{"s":"周防灘","x":43,"v":0.456},{"s":"周防灘","x":44,"v":0.452},{"s":"周防灘","x":45,"v":0.452},{"s":"周防灘","x":46,"v":0.452},
{"s":"響灘","x":16,"v":0.226},{"s":"響灘","x":17,"v":0.226},{"s":"響灘","x":18,"v":0.226},{"s":"響灘","x":19,"v":0.226},{"s":"響灘","x":20,"v":0.226},{"s":"響灘","x":21,"v":0.226},{"s":"響灘","x":22,"v":0.226},{"s":"響灘","x":23,"v":0.226},{"s":"響灘","x":24,"v":0.226},{"s":"響灘","x":25,"v":0.226},{"s":"響灘","x":26,"v":0.226},{"s":"響灘","x":27,"v":0.226},{"s":"響灘","x":28,"v":0.22},{"s":"響灘","x":29,"v":0.22},{"s":"響灘","x":30,"v":0.22},{"s":"響灘","x":31,"v":0.22},{"s":"響灘","x":32,"v":0.22},{"s":"響灘","x":33,"v":0.22},{"s":"響灘","x":34,"v":0.22},{"s":"響灘","x":35,"v":0.22},{"s":"響灘","x":36,"v":0.22},{"s":"響灘","x":37,"v":0.22},{"s":"響灘","x":38,"v":0.216},{"s":"響灘","x":39,"v":0.216},{"s":"響灘","x":40,"v":0.216},{"s":"響灘","x":41,"v":0.216},{"s":"響灘","x":42,"v":0.216},{"s":"響灘","x":43,"v":0.216},{"s":"響灘","x":44,"v":0.216},{"s":"響灘","x":45,"v":0.216},{"s":"響灘","x":46,"v":0.216}
]
},
"vconcat":[
{
"data":{"name":"cod"},
"width":968,"height":181,
"title":{"text":"瀬戸内海・底質の推移（ＣＯＤ）"},
"encoding":{
"x":{"field":"x","type":"quantitative","scale":{"domain":[16,46],"nice":false,"zero":false},"axis":{"values":[16,21,26,31,36,41,46],"labelExpr":"'H' + datum.value","labelFont":"DejaVu Serif","labelFontSize":20,"labelColor":"black","labelFlush":true,"labelFlushOffset":12,"labelPadding":5,"tickSize":5,"tickColor":"black","domainColor":"black","grid":false,"title":null}},
"y":{"field":"v","type":"quantitative","scale":{"domain":[0,18],"nice":false},"axis":{"values":[0,2,4,6,8,10,12,14,16,18],"format":"~g","labelFont":"Liberation Sans","labelFontSize":13,"labelColor":"black","ticks":false,"labelPadding":12,"domainColor":"black","gridColor":{"condition":{"test":"datum.index === 1","value":"#808080"},"value":"#111111"},"title":"(mg/g)","titleFont":"Liberation Mono","titleFontSize":14,"titleFontWeight":"normal","titleColor":"black","titleX":-37}}
},
"layer":[
{"mark":{"type":"point","filled":true,"size":0,"opacity":1},
"encoding":{
"color":{"field":"s","type":"nominal","scale":{"domain":["大阪湾","紀伊水道","播磨灘","備讃瀬戸","備後灘･燧灘","安芸灘","広島湾","伊予灘","豊後水道","周防灘","響灘"],"range":["#FF0000","#FF00FF","#FFFF00","#00FFFF","#993366","#800000","#339966","#0000FF","#00CCFF","#CCFFFF","#CCFFCC"]},"legend":{"labelExpr":"datum.label + '　　\u200b'"}},
"shape":{"field":"s","type":"nominal","scale":{"domain":["大阪湾","紀伊水道","播磨灘","備讃瀬戸","備後灘･燧灘","安芸灘","広島湾","伊予灘","豊後水道","周防灘","響灘"],"range":["M-3.9,-0.5H3.9V0.5H-3.9ZM-1.1,-1.1H1.1V1.1H-1.1Z","M-3.9,-0.2H3.9V0.2H-3.9ZM-1,-1H1V1H-1Z","M-3.9,-0.2H3.9V0.2H-3.9ZM0,-1.2L1.1,0.8H-1.1Z","M-3.9,-0.2H3.9V0.2H-3.9ZM0,-1.1L1.1,0L0,1.1L-1.1,0Z","M-3.9,-0.2H3.9V0.2H-3.9ZM0,-1.1L1.1,0L0,1.1L-1.1,0Z","M-3.9,-0.2H3.9V0.2H-3.9ZM0,-1.1L1.1,0L0,1.1L-1.1,0Z","M-3.9,-0.2H3.9V0.2H-3.9ZM0,-1.1L1.1,0L0,1.1L-1.1,0Z","M-3.9,-0.2H3.9V0.2H-3.9ZM0,-1.1L1.1,0L0,1.1L-1.1,0Z","M-3.9,-0.2H3.9V0.2H-3.9ZM0,-1.1L1.1,0L0,1.1L-1.1,0Z","M-3.9,-0.2H3.9V0.2H-3.9ZM0,-1.1L1.1,0L0,1.1L-1.1,0Z","M-3.9,-0.2H3.9V0.2H-3.9ZM-1,-1H1V1H-1Z"]},"legend":{"labelExpr":"datum.label + '　　\u200b'"}}
}},
{"transform":[{"filter":{"not":{"field":"s","equal":"大阪湾"}}}],"mark":{"type":"line","strokeWidth":1.5},"encoding":{"stroke":{"field":"s","type":"nominal","scale":{"domain":["大阪湾","紀伊水道","播磨灘","備讃瀬戸","備後灘･燧灘","安芸灘","広島湾","伊予灘","豊後水道","周防灘","響灘"],"range":["#FF0000","#FF00FF","#FFFF00","#00FFFF","#993366","#800000","#339966","#0000FF","#00CCFF","#CCFFFF","#CCFFCC"]},"legend":null}}},
{"transform":[{"filter":{"field":"s","equal":"大阪湾"}}],"mark":{"type":"line","strokeWidth":4.5,"color":"#FF0000"}},
{"transform":[{"filter":{"field":"s","oneOf":["大阪湾","紀伊水道","響灘"]}}],"mark":{"type":"point","shape":"square","filled":true,"size":64,"opacity":1},"encoding":{"fill":{"field":"s","type":"nominal","scale":{"domain":["大阪湾","紀伊水道","播磨灘","備讃瀬戸","備後灘･燧灘","安芸灘","広島湾","伊予灘","豊後水道","周防灘","響灘"],"range":["#FF0000","#FF00FF","#FFFF00","#00FFFF","#993366","#800000","#339966","#0000FF","#00CCFF","#CCFFFF","#CCFFCC"]},"legend":null}}},
{"transform":[{"filter":{"field":"s","equal":"播磨灘"}}],"mark":{"type":"point","shape":"triangle-up","filled":true,"size":70,"opacity":1,"color":"#FFFF00"}},
{"transform":[{"filter":{"field":"s","oneOf":["備讃瀬戸","備後灘･燧灘","安芸灘","広島湾","伊予灘","豊後水道","周防灘"]}}],"mark":{"type":"point","shape":"diamond","filled":true,"size":50,"opacity":1},"encoding":{"fill":{"field":"s","type":"nominal","scale":{"domain":["大阪湾","紀伊水道","播磨灘","備讃瀬戸","備後灘･燧灘","安芸灘","広島湾","伊予灘","豊後水道","周防灘","響灘"],"range":["#FF0000","#FF00FF","#FFFF00","#00FFFF","#993366","#800000","#339966","#0000FF","#00CCFF","#CCFFFF","#CCFFCC"]},"legend":null}}}
]
},
{
"data":{"name":"tn"},
"width":968,"height":182,
"title":{"text":"瀬戸内海・底質の推移（Ｔ－Ｎ）"},
"encoding":{
"x":{"field":"x","type":"quantitative","scale":{"domain":[16,46],"nice":false,"zero":false},"axis":{"values":[16,21,26,31,36,41,46],"labelExpr":"'H' + datum.value","labelFont":"DejaVu Serif","labelFontSize":20,"labelColor":"black","labelFlush":true,"labelFlushOffset":12,"labelPadding":5,"tickSize":5,"tickColor":"black","domainColor":"black","grid":false,"title":null}},
"y":{"field":"v","type":"quantitative","scale":{"domain":[0,2],"nice":false},"axis":{"values":[0,0.2,0.4,0.6,0.8,1,1.2,1.4,1.6,1.8,2],"format":"~g","labelFont":"Liberation Sans","labelFontSize":13,"labelColor":"black","ticks":false,"labelPadding":12,"domainColor":"black","gridColor":{"condition":{"test":"datum.index === 1","value":"#808080"},"value":"#111111"},"title":"(mg/g)","titleFont":"Liberation Mono","titleFontSize":14,"titleFontWeight":"normal","titleColor":"black","titleX":-37}}
},
"layer":[
{"mark":{"type":"point","filled":true,"size":0,"opacity":1},
"encoding":{
"color":{"field":"s","type":"nominal","scale":{"domain":["大阪湾","紀伊水道","播磨灘","備讃瀬戸","備後灘･燧灘","安芸灘","広島湾","伊予灘","豊後水道","周防灘","響灘"],"range":["#FF0000","#FF00FF","#FFFF00","#00FFFF","#993366","#800000","#339966","#0000FF","#00CCFF","#CCFFFF","#CCFFCC"]},"legend":{"labelExpr":"datum.label + '　　\u200b'"}},
"shape":{"field":"s","type":"nominal","scale":{"domain":["大阪湾","紀伊水道","播磨灘","備讃瀬戸","備後灘･燧灘","安芸灘","広島湾","伊予灘","豊後水道","周防灘","響灘"],"range":["M-3.9,-0.5H3.9V0.5H-3.9ZM-1.1,-1.1H1.1V1.1H-1.1Z","M-3.9,-0.2H3.9V0.2H-3.9ZM-1,-1H1V1H-1Z","M-3.9,-0.2H3.9V0.2H-3.9ZM0,-1.2L1.1,0.8H-1.1Z","M-3.9,-0.2H3.9V0.2H-3.9ZM0,-1.1L1.1,0L0,1.1L-1.1,0Z","M-3.9,-0.2H3.9V0.2H-3.9ZM0,-1.1L1.1,0L0,1.1L-1.1,0Z","M-3.9,-0.2H3.9V0.2H-3.9ZM0,-1.1L1.1,0L0,1.1L-1.1,0Z","M-3.9,-0.2H3.9V0.2H-3.9ZM0,-1.1L1.1,0L0,1.1L-1.1,0Z","M-3.9,-0.2H3.9V0.2H-3.9ZM0,-1.1L1.1,0L0,1.1L-1.1,0Z","M-3.9,-0.2H3.9V0.2H-3.9ZM0,-1.1L1.1,0L0,1.1L-1.1,0Z","M-3.9,-0.2H3.9V0.2H-3.9ZM0,-1.1L1.1,0L0,1.1L-1.1,0Z","M-3.9,-0.2H3.9V0.2H-3.9ZM-1,-1H1V1H-1Z"]},"legend":{"labelExpr":"datum.label + '　　\u200b'"}}
}},
{"transform":[{"filter":{"not":{"field":"s","equal":"大阪湾"}}}],"mark":{"type":"line","strokeWidth":1.5},"encoding":{"stroke":{"field":"s","type":"nominal","scale":{"domain":["大阪湾","紀伊水道","播磨灘","備讃瀬戸","備後灘･燧灘","安芸灘","広島湾","伊予灘","豊後水道","周防灘","響灘"],"range":["#FF0000","#FF00FF","#FFFF00","#00FFFF","#993366","#800000","#339966","#0000FF","#00CCFF","#CCFFFF","#CCFFCC"]},"legend":null}}},
{"transform":[{"filter":{"field":"s","equal":"大阪湾"}}],"mark":{"type":"line","strokeWidth":4.5,"color":"#FF0000"}},
{"transform":[{"filter":{"field":"s","oneOf":["大阪湾","紀伊水道","響灘"]}}],"mark":{"type":"point","shape":"square","filled":true,"size":64,"opacity":1},"encoding":{"fill":{"field":"s","type":"nominal","scale":{"domain":["大阪湾","紀伊水道","播磨灘","備讃瀬戸","備後灘･燧灘","安芸灘","広島湾","伊予灘","豊後水道","周防灘","響灘"],"range":["#FF0000","#FF00FF","#FFFF00","#00FFFF","#993366","#800000","#339966","#0000FF","#00CCFF","#CCFFFF","#CCFFCC"]},"legend":null}}},
{"transform":[{"filter":{"field":"s","equal":"播磨灘"}}],"mark":{"type":"point","shape":"triangle-up","filled":true,"size":70,"opacity":1,"color":"#FFFF00"}},
{"transform":[{"filter":{"field":"s","oneOf":["備讃瀬戸","備後灘･燧灘","安芸灘","広島湾","伊予灘","豊後水道","周防灘"]}}],"mark":{"type":"point","shape":"diamond","filled":true,"size":50,"opacity":1},"encoding":{"fill":{"field":"s","type":"nominal","scale":{"domain":["大阪湾","紀伊水道","播磨灘","備讃瀬戸","備後灘･燧灘","安芸灘","広島湾","伊予灘","豊後水道","周防灘","響灘"],"range":["#FF0000","#FF00FF","#FFFF00","#00FFFF","#993366","#800000","#339966","#0000FF","#00CCFF","#CCFFFF","#CCFFCC"]},"legend":null}}}
]
},
{
"data":{"name":"tp"},
"width":968,"height":183,
"title":{"text":"瀬戸内海・底質の推移（Ｔ－Ｐ）"},
"encoding":{
"x":{"field":"x","type":"quantitative","scale":{"domain":[16,46],"nice":false,"zero":false},"axis":{"values":[16,21,26,31,36,41,46],"labelExpr":"'H' + datum.value","labelFont":"DejaVu Serif","labelFontSize":20,"labelColor":"black","labelFlush":true,"labelFlushOffset":12,"labelPadding":5,"tickSize":5,"tickColor":"black","domainColor":"black","grid":false,"title":null}},
"y":{"field":"v","type":"quantitative","scale":{"domain":[0,0.6],"nice":false},"axis":{"values":[0,0.1,0.2,0.3,0.4,0.5,0.6],"format":"~g","labelFont":"Liberation Sans","labelFontSize":13,"labelColor":"black","ticks":false,"labelPadding":12,"domainColor":"black","gridColor":{"condition":{"test":"datum.index === 1","value":"#808080"},"value":"#111111"},"title":"(mg/g)","titleFont":"Liberation Mono","titleFontSize":14,"titleFontWeight":"normal","titleColor":"black","titleX":-37}}
},
"layer":[
{"mark":{"type":"point","filled":true,"size":0,"opacity":1},
"encoding":{
"color":{"field":"s","type":"nominal","scale":{"domain":["大阪湾","紀伊水道","播磨灘","備讃瀬戸","備後灘･燧灘","安芸灘","広島湾","伊予灘","豊後水道","周防灘","響灘"],"range":["#FF0000","#FF00FF","#FFFF00","#00FFFF","#993366","#800000","#339966","#0000FF","#00CCFF","#CCFFFF","#CCFFCC"]},"legend":{"labelExpr":"datum.label + '　　\u200b'"}},
"shape":{"field":"s","type":"nominal","scale":{"domain":["大阪湾","紀伊水道","播磨灘","備讃瀬戸","備後灘･燧灘","安芸灘","広島湾","伊予灘","豊後水道","周防灘","響灘"],"range":["M-3.9,-0.5H3.9V0.5H-3.9ZM-1.1,-1.1H1.1V1.1H-1.1Z","M-3.9,-0.2H3.9V0.2H-3.9ZM-1,-1H1V1H-1Z","M-3.9,-0.2H3.9V0.2H-3.9ZM0,-1.2L1.1,0.8H-1.1Z","M-3.9,-0.2H3.9V0.2H-3.9ZM0,-1.1L1.1,0L0,1.1L-1.1,0Z","M-3.9,-0.2H3.9V0.2H-3.9ZM0,-1.1L1.1,0L0,1.1L-1.1,0Z","M-3.9,-0.2H3.9V0.2H-3.9ZM0,-1.1L1.1,0L0,1.1L-1.1,0Z","M-3.9,-0.2H3.9V0.2H-3.9ZM0,-1.1L1.1,0L0,1.1L-1.1,0Z","M-3.9,-0.2H3.9V0.2H-3.9ZM0,-1.1L1.1,0L0,1.1L-1.1,0Z","M-3.9,-0.2H3.9V0.2H-3.9ZM0,-1.1L1.1,0L0,1.1L-1.1,0Z","M-3.9,-0.2H3.9V0.2H-3.9ZM0,-1.1L1.1,0L0,1.1L-1.1,0Z","M-3.9,-0.2H3.9V0.2H-3.9ZM-1,-1H1V1H-1Z"]},"legend":{"labelExpr":"datum.label + '　　\u200b'"}}
}},
{"transform":[{"filter":{"not":{"field":"s","equal":"大阪湾"}}}],"mark":{"type":"line","strokeWidth":1.5},"encoding":{"stroke":{"field":"s","type":"nominal","scale":{"domain":["大阪湾","紀伊水道","播磨灘","備讃瀬戸","備後灘･燧灘","安芸灘","広島湾","伊予灘","豊後水道","周防灘","響灘"],"range":["#FF0000","#FF00FF","#FFFF00","#00FFFF","#993366","#800000","#339966","#0000FF","#00CCFF","#CCFFFF","#CCFFCC"]},"legend":null}}},
{"transform":[{"filter":{"field":"s","equal":"大阪湾"}}],"mark":{"type":"line","strokeWidth":4.5,"color":"#FF0000"}},
{"transform":[{"filter":{"field":"s","oneOf":["大阪湾","紀伊水道","響灘"]}}],"mark":{"type":"point","shape":"square","filled":true,"size":64,"opacity":1},"encoding":{"fill":{"field":"s","type":"nominal","scale":{"domain":["大阪湾","紀伊水道","播磨灘","備讃瀬戸","備後灘･燧灘","安芸灘","広島湾","伊予灘","豊後水道","周防灘","響灘"],"range":["#FF0000","#FF00FF","#FFFF00","#00FFFF","#993366","#800000","#339966","#0000FF","#00CCFF","#CCFFFF","#CCFFCC"]},"legend":null}}},
{"transform":[{"filter":{"field":"s","equal":"播磨灘"}}],"mark":{"type":"point","shape":"triangle-up","filled":true,"size":70,"opacity":1,"color":"#FFFF00"}},
{"transform":[{"filter":{"field":"s","oneOf":["備讃瀬戸","備後灘･燧灘","安芸灘","広島湾","伊予灘","豊後水道","周防灘"]}}],"mark":{"type":"point","shape":"diamond","filled":true,"size":50,"opacity":1},"encoding":{"fill":{"field":"s","type":"nominal","scale":{"domain":["大阪湾","紀伊水道","播磨灘","備讃瀬戸","備後灘･燧灘","安芸灘","広島湾","伊予灘","豊後水道","周防灘","響灘"],"range":["#FF0000","#FF00FF","#FFFF00","#00FFFF","#993366","#800000","#339966","#0000FF","#00CCFF","#CCFFFF","#CCFFCC"]},"legend":null}}}
]
}
]
}
